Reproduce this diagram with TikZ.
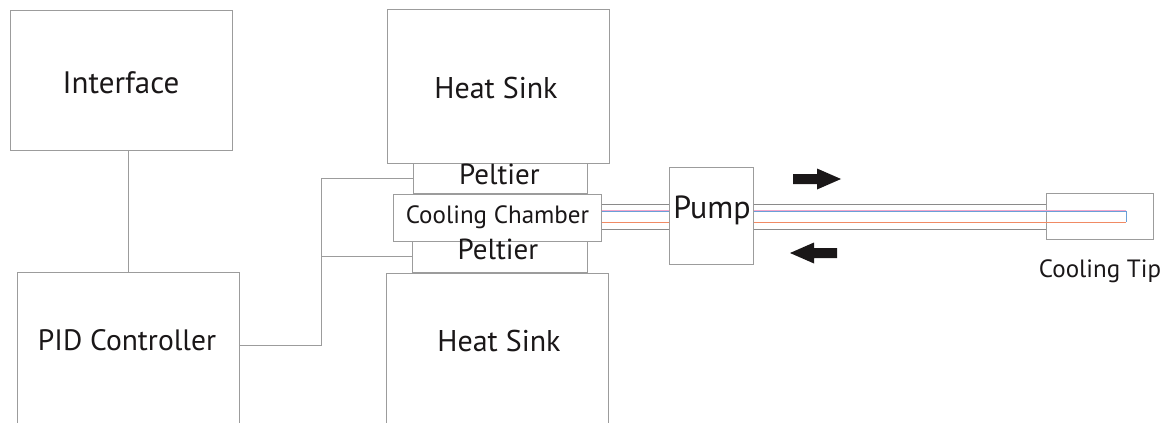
\documentclass[tikz,border=0pt]{standalone}
\usepackage{fontspec}
\setmainfont{PT Sans}
\usetikzlibrary{fit}
\definecolor{boxgray}{HTML}{9C9C9C}
\definecolor{tubegray}{HTML}{8A8A8A}
\definecolor{txt}{HTML}{1A1718}
\definecolor{pinkline}{HTML}{F2A7CB}
\definecolor{blueline}{HTML}{6A9FD8}
\definecolor{orangeline}{HTML}{F08A64}
\tikzset{
  box/.style={draw=boxgray, line width=1pt, inner sep=0pt, fill=none},
  lbl/.style={text=txt, inner sep=0pt, text height=0.7em, text depth=0pt, anchor=center},
  big/.style={lbl, font=\fontsize{30}{30}\selectfont},
  wire/.style={draw=boxgray, line width=1pt},
  tube/.style={draw=tubegray, line width=1pt},
  blockarrow/.style={fill=txt, draw=none}
}
\begin{document}
\begin{tikzpicture}[x=1pt, y=-1pt]
\useasboundingbox (0,0) rectangle (1173,423);
\clip (0,0) rectangle (1173,423);
\fill[white] (0,0) rectangle (1173,423);

% boxes
\node[box, fit={(10,10) (232,150)}] (iface) {};
\node[box, fit={(17,272) (239,430)}] (pid) {};
\node[box, fit={(387,9) (609,163)}] (hs1) {};
\node[box, fit={(413,163) (587,193)}] (pel1) {};
\node[box, fit={(393,194) (601,241)}] (chamber) {};
\node[box, fit={(412,241) (587,272)}] (pel2) {};
\node[box, fit={(386,273) (608,430)}] (hs2) {};
\node[box, fit={(669,167) (753,264)}] (pump) {};
\node[box, fit={(1046,193) (1153,239)}] (tip) {};

% labels
\node[big, font=\fontsize{31}{31}\selectfont] (ifacet) at (121,90) {Interface};
\node[big, font=\fontsize{29.5}{29.5}\selectfont] (pidt) at (127,347) {PID Controller};
\node[big] (hs1t) at (496,95) {Heat Sink};
\node[big] (hs2t) at (499,348) {Heat Sink};
\node[lbl, font=\fontsize{29}{29}\selectfont] (pel1t) at (499.5,181) {Peltier};
\node[lbl, font=\fontsize{29}{29}\selectfont] (pel2t) at (498,256) {Peltier};
\node[lbl, font=\fontsize{25}{25}\selectfont] (chambert) at (497.5,219.5) {Cooling Chamber};
\node[lbl, font=\fontsize{32}{32}\selectfont] (pumpt) at (712,214.5) {Pump};
\node[lbl, font=\fontsize{25}{25}\selectfont] (tipt) at (1100,274) {Cooling Tip};

% control wiring
\coordinate (j) at (321,345);
\draw[wire] (pid.north) -- (pid.north |- iface.south);
\draw[wire] (pid.east |- j) -- (j) -- (j |- pel1.west) -- (pel1.west);
\draw[wire] (j |- pel2.west) -- (pel2.west);

% tubes chamber -> pump
\draw[tube] (chamber.east |- 0,204) -- (pump.west |- 0,204);
\draw[tube] (chamber.east |- 0,229) -- (pump.west |- 0,229);
\draw[pinkline, line width=0.8pt] (chamber.east |- 0,210) -- (pump.west |- 0,210);
\draw[blueline, line width=0.8pt] (chamber.east |- 0,211.5) -- (pump.west |- 0,211.5);
\draw[orangeline, line width=0.9pt] (chamber.east |- 0,222) -- (pump.west |- 0,222);

% tubes pump -> tip
\coordinate (tend) at (1126,222);
\draw[tube] (pump.east |- 0,204) -- (tip.west |- 0,204);
\draw[tube] (pump.east |- 0,229) -- (tip.west |- 0,229);
\draw[pinkline, line width=0.8pt] (pump.east |- 0,210) -- (tend |- 0,210);
\draw[blueline, line width=0.8pt] (pump.east |- 0,211.5) -- (tend |- 0,211.5) -- (tend);
\draw[orangeline, line width=0.9pt] (pump.east |- 0,222) -- (tend);

% flow arrows
\coordinate (ra) at (793,179);
\coordinate (la) at (790,253);
\fill[blockarrow] (ra) ++(0,-5) -- ++(24,0) -- ++(0,-5.5) -- ++(24,10.5) -- ++(-24,10.5) -- ++(0,-5.5) -- ++(-24,0) -- cycle;
\fill[blockarrow] (la) -- ++(24,-10.5) -- ++(0,5.5) -- ++(23,0) -- ++(0,10) -- ++(-23,0) -- ++(0,5.5) -- cycle;
\end{tikzpicture}
\end{document}
